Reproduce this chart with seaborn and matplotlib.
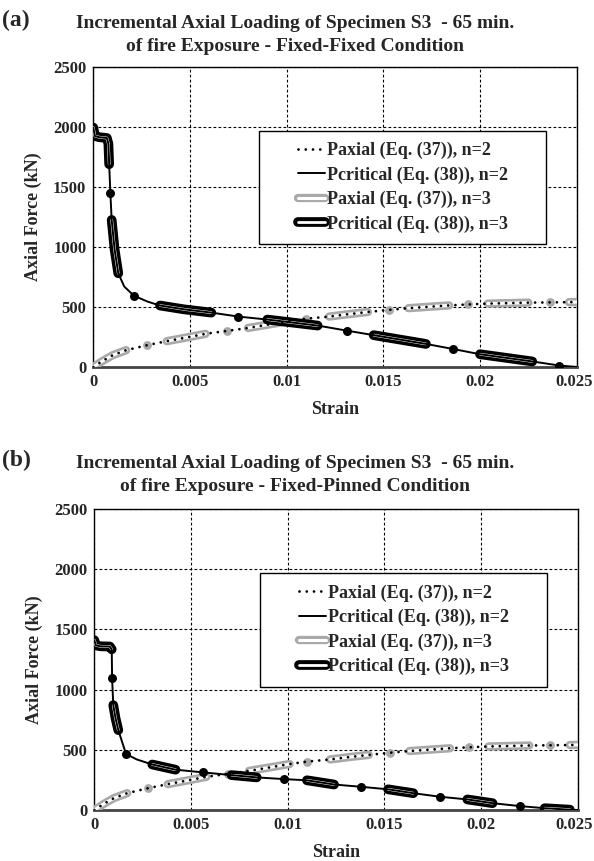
import numpy as np
import pandas as pd
import matplotlib
matplotlib.use("Agg")
import matplotlib.pyplot as plt
import matplotlib.patheffects as pe
import matplotlib.transforms as mtransforms
from matplotlib.lines import Line2D
from matplotlib.patches import Rectangle
import seaborn as sns

sns.set_theme(style="white")
plt.rcParams['font.family'] = ['Liberation Serif', 'DejaVu Serif']
plt.rcParams['font.weight'] = 'bold'

# ---------------- data ----------------
xticks = [0, 0.005, 0.01, 0.015, 0.02, 0.025]
xticklabels = ["0", "0.005", "0.01", "0.015", "0.02", "0.025"]
yticks = [0, 500, 1000, 1500, 2000, 2500]

legend_labels = ["Paxial (Eq. (37)), n=2", "Pcritical (Eq. (38)), n=2",
                 "Paxial (Eq. (37)), n=3", "Pcritical (Eq. (38)), n=3"]

titles = ["Incremental Axial Loading of Specimen S3  - 65 min.\nof fire Exposure - Fixed-Fixed Condition",
          "Incremental Axial Loading of Specimen S3  - 65 min.\nof fire Exposure - Fixed-Pinned Condition"]
panel_tags = ["(a)", "(b)"]

# Paxial n=2 (same in both panels)
axial2_x = [0, 0.0005, 0.001, 0.0017, 0.0028, 0.0038, 0.0048, 0.0058, 0.0069, 0.008, 0.009,
            0.0101, 0.011, 0.0122, 0.0132, 0.0142, 0.0153, 0.0163, 0.0174, 0.0184, 0.0194,
            0.0204, 0.0215, 0.0225, 0.0236, 0.0246, 0.025]
axial2_y = [0, 52, 98, 140, 182, 215, 245, 276, 300, 325, 352, 382, 402, 420, 440, 458, 476,
            490, 502, 513, 521, 528, 532, 536, 538, 540, 541]

# Paxial n=3: dense runs (segments) and isolated points
axial3_seg_x = [0, 0.0005, 0.001, 0.0017,
                0.0038, 0.0048, 0.0058,
                0.008, 0.009, 0.0101,
                0.0122, 0.0132, 0.0142,
                0.0163, 0.0174, 0.0184,
                0.0204, 0.0215, 0.0225,
                0.0246, 0.025]
axial3_seg_y = [0, 52, 98, 140,
                215, 245, 276,
                325, 352, 382,
                420, 440, 458,
                490, 502, 513,
                528, 532, 536,
                540, 541]
axial3_seg_id = [0, 0, 0, 0, 1, 1, 1, 2, 2, 2, 3, 3, 3, 4, 4, 4, 5, 5, 5, 6, 6]
axial3_pt_x = [0.0028, 0.0069, 0.011, 0.0153, 0.0194, 0.0236]
axial3_pt_y = [182, 300, 402, 476, 521, 538]

# Panel (a) Pcritical n=2
a_crit2_x = [0, 0.00008, 0.0003, 0.0007, 0.00078, 0.00082, 0.00088, 0.00095, 0.0011, 0.00129,
             0.0016, 0.0021, 0.0028, 0.00345, 0.0047, 0.0061, 0.0075, 0.009, 0.0116, 0.0131,
             0.0145, 0.0172, 0.0186, 0.02, 0.0227, 0.0241, 0.025]
a_crit2_y = [1995, 1925, 1915, 1908, 1860, 1690, 1453, 1225, 980, 781,
             670, 594, 545, 512, 480, 453, 420, 395, 345, 303,
             265, 192, 150, 106, 46, 12, 0]
# Panel (a) Pcritical n=3
a_crit3_seg_x = [0, 0.00008, 0.0003, 0.0007, 0.00078, 0.00082,
                 0.00095, 0.0011, 0.00129,
                 0.00345, 0.0047, 0.0061,
                 0.009, 0.0116,
                 0.0145, 0.0172,
                 0.02, 0.0227]
a_crit3_seg_y = [1995, 1925, 1915, 1908, 1860, 1690,
                 1225, 980, 781,
                 512, 480, 453,
                 395, 345,
                 265, 192,
                 106, 46]
a_crit3_seg_id = [0, 0, 0, 0, 0, 0, 1, 1, 1, 2, 2, 2, 3, 3, 4, 4, 5, 5]
a_crit3_pt_x = [0.00088, 0.0021, 0.0075, 0.0131, 0.0186, 0.0241]
a_crit3_pt_y = [1453, 594, 420, 303, 150, 12]

# Panel (b) Pcritical n=2
b_crit2_x = [0, 0.00008, 0.0003, 0.0008, 0.0009, 0.00092, 0.00098, 0.0011, 0.00124, 0.00164,
             0.0022, 0.003, 0.0042, 0.0056, 0.0071, 0.0084, 0.0098, 0.011, 0.0124, 0.0138,
             0.0152, 0.0165, 0.0179, 0.0193, 0.0206, 0.022, 0.0233, 0.0246, 0.025]
b_crit2_y = [1411, 1368, 1360, 1358, 1335, 1093, 871, 760, 664, 465,
             420, 378, 335, 313, 290, 271, 257, 247, 212, 193,
             172, 140, 110, 88, 57, 33, 15, 3, 0]
# Panel (b) Pcritical n=3
b_crit3_seg_x = [0, 0.00008, 0.0003, 0.0008, 0.0009,
                 0.00098, 0.0011, 0.00124,
                 0.003, 0.0042,
                 0.0071, 0.0084,
                 0.011, 0.0124,
                 0.0152, 0.0165,
                 0.0193, 0.0206,
                 0.0233, 0.0246]
b_crit3_seg_y = [1411, 1368, 1360, 1358, 1335,
                 871, 760, 664,
                 378, 335,
                 290, 271,
                 247, 212,
                 172, 140,
                 88, 57,
                 15, 3]
b_crit3_seg_id = [0, 0, 0, 0, 0, 1, 1, 1, 2, 2, 3, 3, 4, 4, 5, 5, 6, 6, 7, 7]
b_crit3_pt_x = [0.00092, 0.00164, 0.0056, 0.0098, 0.0138, 0.0179, 0.022]
b_crit3_pt_y = [1093, 465, 313, 257, 193, 110, 33]

# ---------------- styles ----------------
GRAY = "#a9a9a9"
dot_style = dict(color="black", lw=2.0, linestyle=(0, (0.01, 2.6)), dash_capstyle="round")
solid_style = dict(color="black", lw=1.4)


def outline_effect(col, w):
    return [pe.Stroke(linewidth=w, foreground=col, capstyle="round", joinstyle="round"), pe.Normal()]


def draw_panel(ax, crit2_x, crit2_y, c3sx, c3sy, c3sid, c3px, c3py, tag, title, fig, top_px):
    # n=3 Paxial (gray outlined runs + points)
    df = pd.DataFrame({"x": axial3_seg_x, "y": axial3_seg_y, "u": axial3_seg_id})
    sns.lineplot(data=df, x="x", y="y", units="u", estimator=None, sort=False, ax=ax,
                 color="white", lw=2.2, solid_capstyle="round", legend=False,
                 path_effects=outline_effect(GRAY, 6.0), zorder=3)
    sns.scatterplot(x=axial3_pt_x, y=axial3_pt_y, ax=ax, color=GRAY, s=40, linewidth=0, zorder=3)
    # n=3 Pcritical
    df = pd.DataFrame({"x": c3sx, "y": c3sy, "u": c3sid})
    sns.lineplot(data=df, x="x", y="y", units="u", estimator=None, sort=False, ax=ax,
                 color="white", lw=2.0, solid_capstyle="round", legend=False,
                 path_effects=outline_effect("black", 7.0), zorder=4)
    sns.scatterplot(x=c3px, y=c3py, ax=ax, color="black", s=42, linewidth=0, zorder=4)
    # n=2 lines on top
    sns.lineplot(x=axial2_x, y=axial2_y, ax=ax, sort=False, estimator=None, zorder=5, **dot_style)
    sns.lineplot(x=crit2_x, y=crit2_y, ax=ax, sort=False, estimator=None, zorder=5, **solid_style)

    ax.set_xlim(0, 0.025)
    ax.set_ylim(0, 2500)
    ax.set_xticks(xticks)
    ax.set_xticklabels(xticklabels)
    ax.set_yticks(yticks)
    ax.tick_params(axis="both", length=0, labelsize=12, pad=5)
    for lab in ax.get_xticklabels() + ax.get_yticklabels():
        lab.set_fontweight("bold")
    # keep the last x label inside the figure
    last = ax.get_xticklabels()[-1]
    last.set_transform(last.get_transform() +
                       mtransforms.ScaledTranslation(-3 / 100, 0, fig.dpi_scale_trans))
    ax.grid(True, color="black", lw=0.8, linestyle=(0, (2.5, 2)))
    ax.set_axisbelow(True)
    for s in ["top", "right", "left"]:
        ax.spines[s].set_color("black")
        ax.spines[s].set_linewidth(1.0)
    ax.spines["bottom"].set_color("#444444")
    ax.spines["bottom"].set_linewidth(2.0)
    ax.set_xlabel("Strain", fontsize=13, fontweight="bold", labelpad=8)
    ax.set_ylabel("Axial Force (kN)", fontsize=13, fontweight="bold", labelpad=8)

    # legend box
    x0, y0, x1, y1 = 0.343, 0.41, 0.937, 0.788
    ax.add_patch(Rectangle((x0, y0), x1 - x0, y1 - y0, transform=ax.transAxes,
                           facecolor="white", edgecolor="black", lw=1.0, zorder=6))
    handles = [
        Line2D([0], [0], **dot_style),
        Line2D([0], [0], **solid_style),
        Line2D([0], [0], color="white", lw=2.2, solid_capstyle="round",
               path_effects=outline_effect(GRAY, 6.0)),
        Line2D([0], [0], color="white", lw=2.0, solid_capstyle="round",
               path_effects=outline_effect("black", 7.0)),
    ]
    leg = ax.legend(handles, legend_labels, loc="center",
                    bbox_to_anchor=((x0 + x1) / 2, (y0 + y1) / 2), frameon=False,
                    handlelength=1.5, handletextpad=0.1, labelspacing=0.4,
                    prop=dict(family="Liberation Serif", weight="bold", size=13))
    leg.set_zorder(7)

    H = 861.0
    fig.text(2 / 594, 1 - (top_px) / H, tag, fontsize=17, fontweight="bold", ha="left", va="center")
    fig.text(0.497, 1 - (top_px + 15) / H, title, fontsize=14, fontweight="bold",
             ha="center", va="center", linespacing=1.5)


fig = plt.figure(figsize=(5.94, 8.61), dpi=100)
ax_a = fig.add_axes([0.1571, 0.5738, 0.8138, 0.3484])
ax_b = fig.add_axes([0.1588, 0.0592, 0.8135, 0.3496])

draw_panel(ax_a, a_crit2_x, a_crit2_y, a_crit3_seg_x, a_crit3_seg_y, a_crit3_seg_id,
           a_crit3_pt_x, a_crit3_pt_y, panel_tags[0], titles[0], fig, 20)
draw_panel(ax_b, b_crit2_x, b_crit2_y, b_crit3_seg_x, b_crit3_seg_y, b_crit3_seg_id,
           b_crit3_pt_x, b_crit3_pt_y, panel_tags[1], titles[1], fig, 460)

fig.savefig("out.png", dpi=100)
